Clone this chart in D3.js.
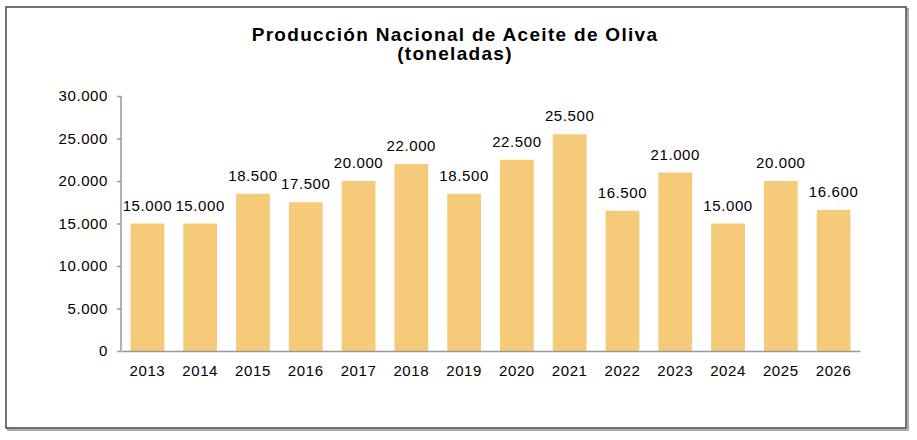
<!DOCTYPE html>
<html>
<head>
<meta charset="utf-8">
<script src="https://cdn.jsdelivr.net/npm/d3@7"></script>
<style>
  body { margin: 0; background: #fff; }
  svg { display: block; font-family: "Liberation Sans", Arial, sans-serif; }
</style>
</head>
<body>
<script>
// valores
const years = ["2013", "2014", "2015", "2016", "2017", "2018", "2019", "2020", "2021", "2022", "2023", "2024", "2025", "2026"];
const produccion = [15000, 15000, 18500, 17500, 20000, 22000, 18500, 22500, 25500, 16500, 21000, 15000, 20000, 16600];
const yTicks = [0, 5000, 10000, 15000, 20000, 25000, 30000];

const width = 917, height = 440;
const fmt = d3.formatLocale({ decimal: ",", thousands: ".", grouping: [3], currency: ["", "€"] }).format(",.0f");

const svg = d3.select("body").append("svg")
	.attr("width", width)
	.attr("height", height);

// marco con sombra
svg.append("rect")
	.attr("x", 8).attr("y", 9)
	.attr("width", 900).attr("height", 421)
	.attr("fill", "none").attr("stroke", "#aaa").attr("stroke-width", 2);
svg.append("rect")
	.attr("x", 6).attr("y", 7)
	.attr("width", 900).attr("height", 421)
	.attr("fill", "#fff").attr("stroke", "#444").attr("stroke-width", 1.5);

// titulo
const title = svg.append("text")
	.attr("text-anchor", "middle")
	.attr("font-weight", "bold")
	.attr("font-size", 19)
	.attr("letter-spacing", 1.3)
	.attr("fill", "#000");
title.append("tspan").attr("x", 455).attr("y", 41).text("Producción Nacional de Aceite de Oliva");
title.append("tspan").attr("x", 455).attr("y", 60).text("(toneladas)");

const x = d3.scaleBand()
	.domain(years)
	.range([121, 860])
	.paddingInner(0.36)
	.paddingOuter(0.18);

const y = d3.scaleLinear()
	.domain([0, 30000])
	.range([351, 96]);

// eje y
const yAxis = svg.append("g")
	.attr("transform", "translate(121,0)")
	.call(d3.axisLeft(y).tickValues(yTicks).tickFormat(fmt).tickSize(4).tickPadding(9));
yAxis.selectAll("text").attr("font-size", 15).attr("letter-spacing", 0.6).attr("fill", "#000").attr("font-family", "Liberation Sans, Arial, sans-serif");
yAxis.selectAll("line, path").attr("stroke", "#999").attr("stroke-width", 1.5);
yAxis.select(".domain").attr("d", "M0,96V351");

// barras
svg.selectAll("rect.bar")
	.data(produccion)
	.join("rect")
	.attr("class", "bar")
	.attr("x", (d, i) => x(years[i]))
	.attr("y", d => y(d))
	.attr("width", x.bandwidth())
	.attr("height", d => y(0) - y(d))
	.attr("fill", "#F5CB7A");

// eje x
const xAxis = svg.append("g")
	.attr("transform", "translate(0,351)")
	.call(d3.axisBottom(x).tickSize(0).tickPadding(14));
xAxis.selectAll("text").attr("font-size", 15).attr("letter-spacing", 0.6).attr("fill", "#000").attr("font-family", "Liberation Sans, Arial, sans-serif");
xAxis.select(".domain").attr("stroke", "#999").attr("stroke-width", 1.5);

// etiquetas
svg.selectAll("text.lbl")
	.data(produccion)
	.join("text")
	.attr("class", "lbl")
	.attr("x", (d, i) => x(years[i]) + x.bandwidth() / 2)
	.attr("y", d => y(d) - 13)
	.attr("text-anchor", "middle")
	.attr("font-size", 15)
	.attr("letter-spacing", 0.6)
	.attr("fill", "#000")
	.text(d => fmt(d));
</script>
</body>
</html>
